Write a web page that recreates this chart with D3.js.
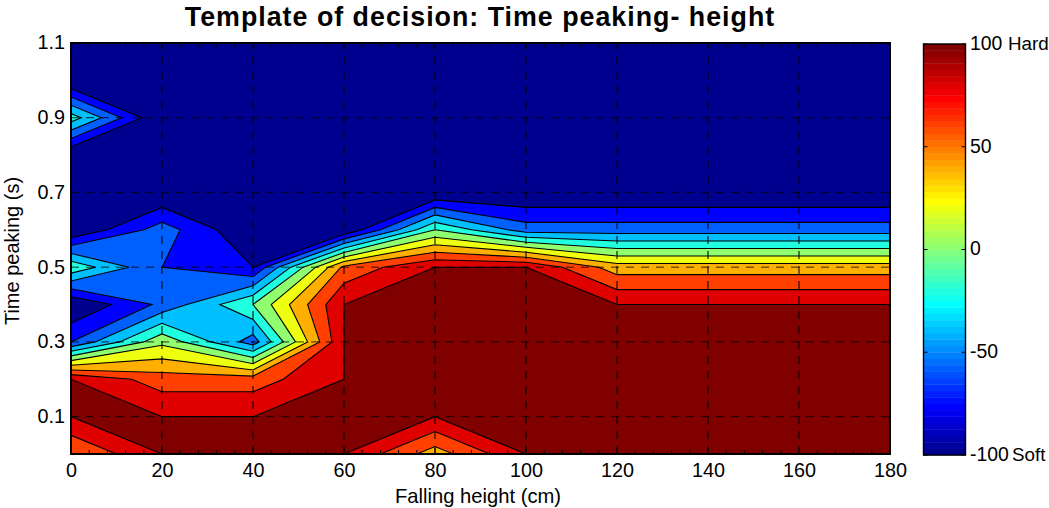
<!DOCTYPE html>
<html>
<head>
<meta charset="utf-8">
<script src="https://cdn.jsdelivr.net/npm/d3@7"></script>
<style>
html,body{margin:0;padding:0;background:#fff;}
svg{display:block;}
text{font-family:"Liberation Sans",Arial,sans-serif;fill:#000;}
</style>
</head>
<body>
<svg id="chart" width="1049" height="508"></svg>
<script>
const titleText = "Template of decision: Time peaking- height";
const xLabelText = "Falling height (cm)";
const yLabelText = "Time peaking (s)";
const heights = [0,20,40,60,80,100,120,140,160,180];
const peakTimes = [0,0.1,0.2,0.3,0.4,0.5,0.6,0.7,0.8,0.9,1.0,1.1];
const row00 = [60,100,100,100,50,100,100,100,100,100];
const row01 = [100,100,100,100,100,100,100,100,100,100];
const row02 = [100,70,70,100,100,100,100,100,100,100];
const row03 = [-60,15,-50,100,100,100,100,100,100,100];
const row04 = [-100,-55,0,100,100,100,100,100,100,100];
const row05 = [-5,-60,-80,65,100,100,50,50,50,50];
const row06 = [-100,-50,-100,-100,0,-50,-50,-50,-50,-50];
const row07 = [-100,-100,-100,-100,-100,-100,-100,-100,-100,-100];
const row08 = [-100,-100,-100,-100,-100,-100,-100,-100,-100,-100];
const row09 = [-10,-100,-100,-100,-100,-100,-100,-100,-100,-100];
const row10 = [-100,-100,-100,-100,-100,-100,-100,-100,-100,-100];
const row11 = [-100,-100,-100,-100,-100,-100,-100,-100,-100,-100];
const levels = [-80,-60,-40,-20,0,20,40,60,80,100];
const baseColor = "#00008f";
const levelColors = ["#0000ff","#0060ff","#00bfff","#20ffdf","#8fff70","#efff10","#ffaf00","#ff4000","#df0000","#800000"];
const xTicks = [0,20,40,60,80,100,120,140,160,180];
const yTicks = [0.1,0.3,0.5,0.7,0.9,1.1];
const xGrid = [20,40,60,80,100,120,140,160];
const yGrid = [0.1,0.3,0.5,0.7,0.9];
const xMinor = d3.range(0,181,4);
const barTicks = [100,50,0,-50,-100];
const barTickText = ["100","50","0","-50","-100"];
const barNotes = ["Hard","","","","Soft"];
// level whose ambiguous cell joins its high corners instead of its low ones
const invertedLevels = [-40];

const svg = d3.select("#chart");
const x = d3.scaleLinear().domain([0,180]).range([71,890]);
const y = d3.scaleLinear().domain([0,1.1]).range([454,43]);
const rows = [row00,row01,row02,row03,row04,row05,row06,row07,row08,row09,row10,row11];
const nx = heights.length, ny = peakTimes.length;

svg.append("defs").append("clipPath").attr("id","plot").append("rect")
  .attr("x",71).attr("y",43).attr("width",819).attr("height",411);

const plot = svg.append("g").attr("clip-path","url(#plot)");
plot.append("rect").attr("x",71).attr("y",43).attr("width",819).attr("height",411).attr("fill",baseColor);

const gen = d3.contours().size([nx,ny]).smooth(true);
const values = rows.flat();
const negated = values.map(v=>-v);
const px = c => x((c-0.5)*20);
const py = c => y((c-0.5)*0.1);
const line = d3.line().x(d=>px(d[0])).y(d=>py(d[1])).curve(d3.curveLinearClosed);
const toPath = polys => polys.map(poly=>poly.map(ring=>line(ring)).join("")).join("");
const bands = levels.map(level=>{
  if (invertedLevels.includes(level)) {
    // the band is everything outside the region below the level
    const outer = line([[0,0],[nx,0],[nx,ny],[0,ny]]);
    return outer + toPath(gen.contour(negated,-level).coordinates);
  }
  return toPath(gen.contour(values,level).coordinates);
});

plot.selectAll("path.band").data(bands).join("path")
  .attr("class","band")
  .attr("d",d=>d)
  .attr("fill",(d,i)=>levelColors[i])
  .attr("fill-rule","evenodd")
  .attr("stroke","#000")
  .attr("stroke-width",1.1)
  .attr("stroke-linejoin","miter");

// dashed grid
const gridG = svg.append("g").attr("stroke","#000").attr("fill","none");
gridG.selectAll("line.gx").data(xGrid).join("line").attr("class","gx")
  .attr("x1",d=>x(d)).attr("x2",d=>x(d)).attr("y1",454).attr("y2",43)
  .attr("stroke-width",1.3).attr("stroke-dasharray","8 7").attr("stroke-opacity",0.8);
gridG.selectAll("line.gy").data(yGrid).join("line").attr("class","gy")
  .attr("x1",71).attr("x2",890).attr("y1",d=>y(d)).attr("y2",d=>y(d))
  .attr("stroke-width",1).attr("stroke-dasharray","8 7").attr("stroke-opacity",0.8);

// minor ticks top and bottom
const tickG = svg.append("g").attr("stroke","#000").attr("stroke-width",1);
xMinor.forEach(v=>{
  const len = v%20===0 ? 6 : 4;
  tickG.append("line").attr("x1",x(v)).attr("x2",x(v)).attr("y1",454).attr("y2",454-len);
  tickG.append("line").attr("x1",x(v)).attr("x2",x(v)).attr("y1",43).attr("y2",43+len);
});

// frame
svg.append("rect").attr("x",71).attr("y",43).attr("width",819).attr("height",411)
  .attr("fill","none").attr("stroke","#000").attr("stroke-width",2);

// axis labels
const xAxis = d3.axisBottom(x).tickValues(xTicks).tickSize(0).tickPadding(0);
const gx = svg.append("g").attr("transform","translate(0,454)").call(xAxis);
gx.select(".domain").remove();
gx.selectAll("text").attr("dy",null).attr("y",23).attr("font-size",19.8).attr("font-family",null).attr("fill","#000");
const yAxis = d3.axisLeft(y).tickValues(yTicks).tickSize(0).tickPadding(0).tickFormat(d3.format(".1f"));
const gy = svg.append("g").attr("transform","translate(71,0)").call(yAxis);
gy.select(".domain").remove();
gy.selectAll("text").attr("x",-6).attr("dy","0.3em").attr("font-size",19.8).attr("font-family",null).attr("fill","#000");

svg.append("text").attr("x",480).attr("y",26).attr("text-anchor","middle")
  .attr("font-size",26.8).attr("font-weight","bold").attr("letter-spacing",1).text(titleText);
svg.append("text").attr("x",478).attr("y",503).attr("text-anchor","middle")
  .attr("font-size",20.2).text(xLabelText);
svg.append("text").attr("transform","translate(19,251) rotate(-90)").attr("text-anchor","middle")
  .attr("font-size",20).text(yLabelText);

// colour bar
const jet = t => {
  const c = v => Math.max(0,Math.min(1,v));
  return d3.rgb(255*c(1.5-Math.abs(4*t-3)),255*c(1.5-Math.abs(4*t-2)),255*c(1.5-Math.abs(4*t-1)));
};
const barY = d3.scaleLinear().domain([-100,100]).range([455,44]);
const barSteps = d3.range(64);
const barX0 = 923.5, barX1 = 965.5;
svg.append("g").selectAll("rect").data(barSteps).join("rect")
  .attr("x",barX0).attr("width",barX1-barX0)
  .attr("y",d=>barY(-100+(d+1)*200/64))
  .attr("height",d=>barY(-100+d*200/64)-barY(-100+(d+1)*200/64)+0.4)
  .attr("fill",d=>jet((d+1)/64));
svg.append("rect").attr("x",barX0).attr("y",44).attr("width",barX1-barX0).attr("height",411)
  .attr("fill","none").attr("stroke","#000").attr("stroke-width",1.4);
const barG = svg.append("g");
barG.selectAll("line.l").data(barTicks).join("line").attr("class","l")
  .attr("x1",barX0).attr("x2",barX0+4).attr("y1",d=>barY(d)).attr("y2",d=>barY(d)).attr("stroke","#000");
barG.selectAll("line.r").data(barTicks).join("line").attr("class","r")
  .attr("x1",barX1-4).attr("x2",barX1).attr("y1",d=>barY(d)).attr("y2",d=>barY(d)).attr("stroke","#000");
barG.selectAll("text.v").data(barTicks).join("text").attr("class","v")
  .attr("x",970).attr("y",d=>barY(d)).attr("dy","0.3em").attr("font-size",19.4)
  .text((d,i)=>barTickText[i]);
barG.selectAll("text.n").data(barTicks).join("text").attr("class","n")
  .attr("x",(d,i)=>i===0?1008:1012).attr("y",d=>barY(d)).attr("dy","0.3em").attr("font-size",18.8)
  .text((d,i)=>barNotes[i]);
</script>
</body>
</html>
